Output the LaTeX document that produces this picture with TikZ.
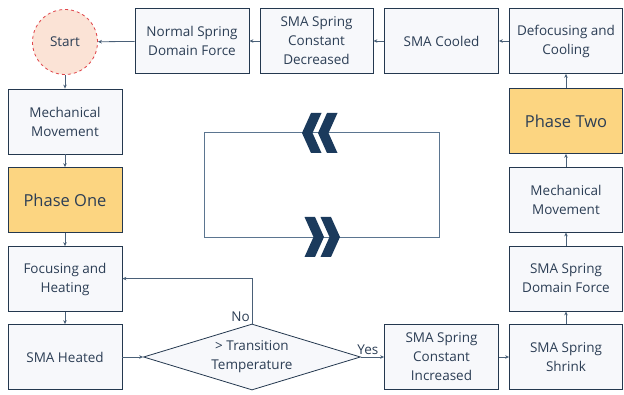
\documentclass[tikz,border=0pt]{standalone}
\usepackage{fontspec}
\setmainfont{Open Sans}
\usetikzlibrary{shapes.geometric,arrows.meta}
\definecolor{bordc}{HTML}{24384F}
\definecolor{txtc}{HTML}{2C3E55}
\definecolor{linec}{HTML}{4A6078}
\definecolor{boxfill}{HTML}{F7F8FB}
\definecolor{phfill}{HTML}{FCD581}
\definecolor{stfill}{HTML}{FBE3D6}
\definecolor{stbord}{HTML}{E0474C}
\definecolor{rectc}{HTML}{5B7590}
\definecolor{chevc}{HTML}{1B3A5C}
\begin{document}
\begin{tikzpicture}[x=1pt,y=-1pt,
  every node/.style={font=\fontsize{13.5}{19}\selectfont, text=txtc},
  box/.style={draw=bordc, line width=0.8pt, fill=boxfill, minimum width=114pt, minimum height=65pt, align=center, inner sep=2pt},
  phase/.style={box, fill=phfill, font=\fontsize{16.5}{19}\selectfont},
  conn/.style={draw=linec, line width=0.8pt, -{Stealth[length=4pt,width=3.5pt]}},
  chev/.style={fill=chevc, draw=none}
]
\useasboundingbox (0,0) rectangle (624,395);
\node[circle, draw=stbord, dashed, line width=0.8pt, fill=stfill, minimum size=65pt, inner sep=0pt] (start) at (65,42) {Start};
\node[box] (mm1) at (65,121.5) {Mechanical\\Movement};
\node[phase] (p1) at (65,200) {Phase One};
\node[box] (fh) at (65,279) {Focusing and\\Heating};
\node[box] (sh) at (65,357) {SMA Heated};
\node[diamond, draw=bordc, line width=0.8pt, fill=boxfill, minimum width=217pt, minimum height=66pt, aspect=3.29, inner sep=0pt, align=center] (dia) at (252,357) {> Transition\\Temperature};
\node[box] (sci) at (441.5,357) {SMA Spring\\Constant\\Increased};
\node[box, minimum width=113pt] (shr) at (566,357) {SMA Spring\\Shrink};
\node[box, minimum width=113pt] (sdf) at (566,278.5) {SMA Spring\\Domain Force};
\node[box, minimum width=113pt] (mm2) at (566,199.5) {Mechanical\\Movement};
\node[phase, minimum width=113pt] (p2) at (566,121) {Phase Two};
\node[box, minimum width=113pt] (dc) at (566,41) {Defocusing and\\Cooling};
\node[box] (cool) at (441.5,41) {SMA Cooled};
\node[box, minimum width=113pt] (scd) at (316.5,41) {SMA Spring\\Constant\\Decreased};
\node[box] (nsdf) at (192,41) {Normal Spring\\Domain Force};
% connectors
\draw[conn] (start) -- (mm1);
\draw[conn] (mm1) -- (p1);
\draw[conn] (p1) -- (fh);
\draw[conn] (fh) -- (sh);
\draw[conn] (sh) -- (dia);
\draw[conn] (dia.east) -- node[above, pos=0.3, inner sep=2pt] {Yes} (sci.west);
\draw[conn] (dia.north) -- ++(0,-45) coordinate (nocorner) -- (fh.east |- nocorner);
\node[anchor=south east, inner sep=2pt] (nolab) at (dia.north) {No};
\draw[conn] (sci) -- (shr);
\draw[conn] (shr) -- (sdf);
\draw[conn] (sdf) -- (mm2);
\draw[conn] (mm2) -- (p2);
\draw[conn] (p2) -- (dc);
\draw[conn] (dc) -- (cool);
\draw[conn] (cool) -- (scd);
\draw[conn] (scd) -- (nsdf);
\draw[conn] (nsdf) -- (start);
% center rectangle with chevrons
\draw[rectc, line width=1pt] (204,133) rectangle (439,238);
\foreach \ox in {302,318}{
  \fill[chev] (\ox,133) -- ++(9,-20) -- ++(10.5,0) -- ++(-9,20) -- ++(9,20) -- ++(-10.5,0) -- cycle;
}
\foreach \ox in {340,324}{
  \fill[chev] (\ox,237) -- ++(-9,-20) -- ++(-10.5,0) -- ++(9,20) -- ++(-9,20) -- ++(10.5,0) -- cycle;
}
\end{tikzpicture}
\end{document}
